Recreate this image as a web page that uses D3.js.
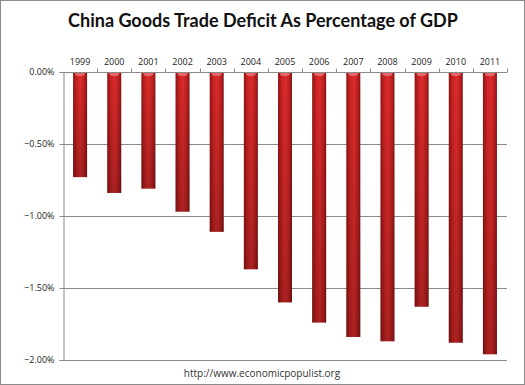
<!DOCTYPE html>
<html>
<head>
<meta charset="utf-8">
<script src="https://cdn.jsdelivr.net/npm/d3@7"></script>
<style>
  body { margin: 0; background: #fff; }
  svg text { font-family: "Open Sans", "DejaVu Sans", sans-serif; }
</style>
</head>
<body>
<svg id="chart" width="525" height="385"></svg>
<script>
var years = ["1999", "2000", "2001", "2002", "2003", "2004", "2005", "2006", "2007", "2008", "2009", "2010", "2011"];
var deficit = [-0.73, -0.84, -0.81, -0.97, -1.11, -1.37, -1.60, -1.74, -1.84, -1.87, -1.63, -1.88, -1.96];
var yTicks = [0, -0.5, -1.0, -1.5, -2.0];

var width = 525, height = 385;
var svg = d3.select("#chart");

// outer frame
svg.append("rect")
    .attr("x", 0.5).attr("y", 0.5)
    .attr("width", width - 1).attr("height", height - 1)
    .attr("fill", "#fff").attr("stroke", "#8c8c8c");

var plotLeft = 63, plotRight = 507, plotTop = 72, plotBottom = 360;

var x = d3.scaleBand().domain(years).range([plotLeft, plotRight]).paddingInner(0.59).paddingOuter(0.295);
var y = d3.scaleLinear().domain([0, -2]).range([plotTop, plotBottom]);

// bar gradient, cylinder look
var defs = svg.append("defs");
var grad = defs.append("linearGradient").attr("id", "barGrad")
    .attr("x1", "0%").attr("x2", "100%").attr("y1", "0%").attr("y2", "0%");
grad.append("stop").attr("offset", "0%").attr("stop-color", "#901515");
grad.append("stop").attr("offset", "30%").attr("stop-color", "#cf2424");
grad.append("stop").attr("offset", "55%").attr("stop-color", "#dc2c2c");
grad.append("stop").attr("offset", "85%").attr("stop-color", "#b81d1d");
grad.append("stop").attr("offset", "100%").attr("stop-color", "#801111");

var shade = defs.append("linearGradient").attr("id", "shadeGrad")
    .attr("x1", "0%").attr("x2", "0%").attr("y1", "0%").attr("y2", "100%");
shade.append("stop").attr("offset", "0%").attr("stop-color", "#000").attr("stop-opacity", 0);
shade.append("stop").attr("offset", "100%").attr("stop-color", "#000").attr("stop-opacity", 0.22);

// gridlines
svg.append("g").selectAll("line")
    .data(yTicks.filter(function (d) { return d !== 0; }))
    .enter().append("line")
    .attr("x1", plotLeft).attr("x2", plotRight)
    .attr("y1", function (d) { return Math.round(y(d)) + 0.5; })
    .attr("y2", function (d) { return Math.round(y(d)) + 0.5; })
    .attr("stroke", "#8a8a8a").attr("stroke-width", 1);

// y axis
var yAxis = svg.append("g")
    .attr("transform", "translate(" + (plotLeft + 0.5) + ",0)")
    .call(d3.axisLeft(y).tickValues(yTicks).tickSize(4).tickPadding(5)
        .tickFormat(function (d) { return d3.format(".2f")(d) + "%"; }));
yAxis.select(".domain").attr("stroke", "#8a8a8a");
yAxis.selectAll(".tick line").attr("stroke", "#8a8a8a");
yAxis.selectAll("text").attr("font-size", 9).attr("fill", "#222")
    .style("font-family", "'Open Sans', 'DejaVu Sans', sans-serif");

// bars
var bars = svg.append("g").selectAll("g")
    .data(years).enter().append("g");
bars.append("rect")
    .attr("x", function (d) { return x(d); })
    .attr("y", y(0))
    .attr("width", x.bandwidth())
    .attr("height", function (d, i) { return y(deficit[i]) - y(0); })
    .attr("fill", "url(#barGrad)");
bars.append("rect")
    .attr("x", function (d) { return x(d); })
    .attr("y", y(0))
    .attr("width", x.bandwidth())
    .attr("height", function (d, i) { return y(deficit[i]) - y(0); })
    .attr("fill", "url(#shadeGrad)");
bars.append("ellipse")
    .attr("cx", function (d) { return x(d) + x.bandwidth() / 2; })
    .attr("cy", y(0) + 2)
    .attr("rx", x.bandwidth() / 2 - 2).attr("ry", 2)
    .attr("fill", "#f08080").attr("opacity", 0.7);

// zero axis with category ticks pointing up
var xAxis = svg.append("g")
    .attr("transform", "translate(0," + (plotTop + 0.5) + ")");
xAxis.append("line")
    .attr("x1", plotLeft).attr("x2", plotRight)
    .attr("stroke", "#8a8a8a");
var bounds = years.map(function (d) { return x(d) - x.step() * x.paddingInner() / 2; }).slice(1);
bounds.push(plotRight);
xAxis.selectAll(".tk").data(bounds).enter().append("line")
    .attr("x1", function (d) { return Math.round(d) + 0.5; })
    .attr("x2", function (d) { return Math.round(d) + 0.5; })
    .attr("y1", -4).attr("y2", 0)
    .attr("stroke", "#8a8a8a");
xAxis.selectAll("text").data(years).enter().append("text")
    .attr("x", function (d) { return x(d) + x.bandwidth() / 2; })
    .attr("y", -8)
    .attr("text-anchor", "middle")
    .attr("font-size", 9).attr("fill", "#222")
    .text(function (d) { return d; });

// title
svg.append("text")
    .attr("x", 263).attr("y", 27)
    .attr("text-anchor", "middle")
    .attr("font-size", 18).attr("font-weight", "bold").attr("fill", "#111")
    .style("font-family", "Lato, 'Open Sans', sans-serif")
    .text("China Goods Trade Deficit As Percentage of GDP");

// source
svg.append("text")
    .attr("x", 262).attr("y", 377)
    .attr("text-anchor", "middle")
    .attr("font-size", 10).attr("fill", "#333")
    .text("http://www.economicpopulist.org");
</script>
</body>
</html>
